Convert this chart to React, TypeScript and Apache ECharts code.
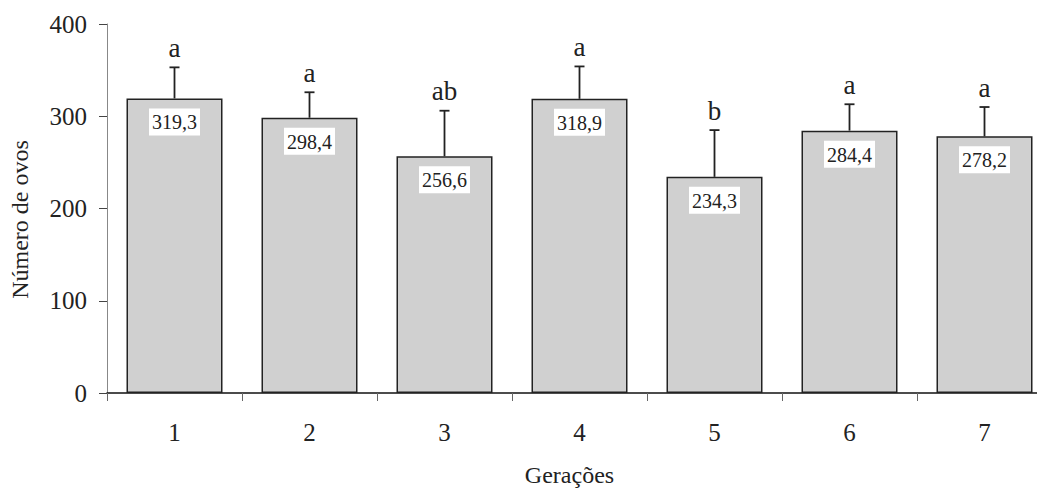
import React, { useEffect, useRef } from "react";
import * as echarts from "echarts";

const categories = ["1", "2", "3", "4", "5", "6", "7"];
const means = [319.3, 298.4, 256.6, 318.9, 234.3, 284.4, 278.2];
const errorTops = [353, 326, 306, 354, 285, 313, 310];
const letters = ["a", "a", "ab", "a", "b", "a", "a"];
const yTicks = { min: 0, max: 400, interval: 100 };

const FONT = '"Liberation Serif", "Times New Roman", Times, serif';
const INK = "#222";

export default function App() {
  const ref = useRef<HTMLDivElement>(null);
  useEffect(() => {
    if (!ref.current) return;
    const chart = echarts.init(ref.current, null, { renderer: "svg" });
    chart.setOption({
      animation: false,
      backgroundColor: "#fff",
      grid: { left: 107, top: 24, bottom: 95, right: 0 },
      xAxis: {
        type: "category",
        data: categories,
        name: "Gerações",
        nameLocation: "middle",
        nameGap: 70,
        nameTextStyle: { fontFamily: FONT, fontSize: 24, color: INK, padding: [0, 20, 0, 0] },
        axisLine: { lineStyle: { color: "#111", width: 1.5 } },
        axisTick: { show: true, length: 8, lineStyle: { color: "#666", width: 1 } },
        axisLabel: { margin: 27, fontFamily: FONT, fontSize: 25, color: INK },
      },
      yAxis: {
        type: "value",
        min: yTicks.min,
        max: yTicks.max,
        interval: yTicks.interval,
        name: "Número de ovos",
        nameLocation: "middle",
        nameGap: 75,
        nameTextStyle: { fontFamily: FONT, fontSize: 24, color: INK, padding: [0, 0, 0, -22] },
        splitLine: { show: false },
        axisLine: { show: true, lineStyle: { color: "#888", width: 1 } },
        axisTick: { show: true, length: 8, lineStyle: { color: "#444", width: 1 } },
        axisLabel: { margin: 20, fontFamily: FONT, fontSize: 25, color: INK },
      },
      series: [
        {
          type: "bar",
          data: means,
          barWidth: 96,
          itemStyle: { color: "#d0d0d0", borderColor: INK, borderWidth: 1.5 },
          label: {
            show: true,
            position: "insideTop",
            distance: 10,
            formatter: (p: any) => Number(p.value).toFixed(1).replace(".", ","),
            backgroundColor: "#fff",
            padding: [4, 3, 3, 3],
            color: INK,
            fontFamily: FONT,
            fontSize: 20,
          },
        },
        {
          type: "custom",
          z: 5,
          data: means.map((m, i) => [i, m, errorTops[i]]),
          renderItem: (params: any, api: any) => {
            const i = api.value(0);
            const top = api.coord([i, api.value(1)]);
            const err = api.coord([i, api.value(2)]);
            const stroke = { stroke: INK, lineWidth: 1.8 };
            return {
              type: "group",
              children: [
                { type: "line", shape: { x1: top[0], y1: top[1], x2: err[0], y2: err[1] }, style: stroke },
                { type: "line", shape: { x1: err[0] - 5, y1: err[1], x2: err[0] + 5, y2: err[1] }, style: stroke },
                {
                  type: "text",
                  x: err[0],
                  y: err[1] - 6,
                  style: {
                    text: letters[params.dataIndex],
                    align: "center",
                    verticalAlign: "bottom",
                    fontFamily: FONT,
                    fontSize: 27,
                    fill: INK,
                  },
                },
              ],
            };
          },
        },
      ],
    });
    return () => chart.dispose();
  }, []);
  return (
    <div style={{ position: "fixed", left: 0, top: 0, width: 1037, height: 492, overflow: "hidden", background: "#fff" }}>
      <div ref={ref} style={{ width: 1052, height: 492 }} />
    </div>
  );
}
